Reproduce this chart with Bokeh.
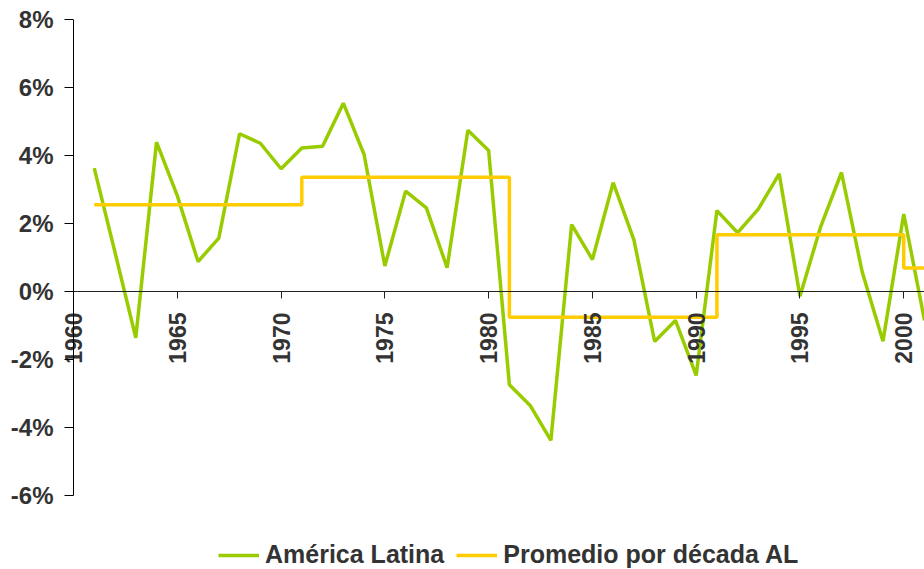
from bokeh.plotting import figure
from bokeh.models import Range1d, FixedTicker, Legend, LegendItem, LinearAxis
from bokeh.embed import file_html
from bokeh.resources import INLINE

years = list(range(1961, 2002))
america_latina = [3.63, 1.15, -1.36, 4.39, 2.82, 0.88, 1.57, 4.64, 4.36, 3.61,
                  4.22, 4.27, 5.54, 4.03, 0.75, 2.95, 2.46, 0.70, 4.74, 4.15,
                  -2.74, -3.35, -4.38, 1.97, 0.94, 3.20, 1.52, -1.47, -0.85, -2.47,
                  2.38, 1.73, 2.43, 3.46, -0.14, 1.91, 3.50, 0.57, -1.46, 2.28,
                  -0.85]
decade_avg = [2.55] * 10 + [3.36] * 10 + [-0.76] * 10 + [1.67] * 9 + [0.69] * 2

y_ticks = [-6, -4, -2, 0, 2, 4, 6, 8]
y_labels = {t: f"{t}%" for t in y_ticks}
x_ticks = [1960, 1965, 1970, 1975, 1980, 1985, 1990, 1995, 2000]

GREEN = "#99CC00"
YELLOW = "#FFCC00"
TXT = "#333333"
FONT = "Liberation Sans"

LEFT = 64                # frame starts a little left of the y axis line
PPY = 851 / 41.0         # pixels per year
x0 = 1960 - (73 - LEFT) / PPY

p = figure(width=924, height=569, output_backend="svg", toolbar_location=None,
           x_range=Range1d(x0, 2001), y_range=Range1d(8 - 550 / 34.0, 8),
           x_axis_location=None, y_axis_location=None,
           min_border_left=LEFT, min_border_right=0, min_border_top=19,
           min_border_bottom=0)
p.outline_line_color = None
p.xgrid.visible = False
p.ygrid.visible = False
p.background_fill_color = "white"

r1 = p.line(years, america_latina, line_color=GREEN, line_width=3.5)
r2 = p.step(years, decade_avg, line_color=YELLOW, line_width=3.5, mode="after")

# y axis labels and tick marks (panel axis, no line)
yax = LinearAxis(bounds=(-6, 8))
yax.ticker = FixedTicker(ticks=y_ticks)
yax.major_label_overrides = y_labels
yax.minor_tick_line_color = None
yax.major_tick_in = 73 - LEFT
yax.major_tick_out = 0
yax.major_label_standoff = 11
yax.axis_line_color = None
yax.major_tick_line_color = "black"
yax.major_label_text_font = FONT
yax.major_label_text_font_style = "bold"
yax.major_label_text_font_size = "24px"
yax.major_label_text_color = TXT
p.add_layout(yax, "left")

# y axis line at 1960
yline = LinearAxis(fixed_location=1960, bounds=(-6, 8))
yline.ticker = FixedTicker(ticks=[])
yline.minor_tick_line_color = None
yline.major_tick_line_color = None
yline.axis_line_color = "black"
p.add_layout(yline, "left")

# x axis crossing at zero
xax = LinearAxis(fixed_location=0, bounds=(1960, 2001))
xax.ticker = FixedTicker(ticks=x_ticks)
xax.minor_tick_line_color = None
xax.major_tick_in = 0
xax.major_tick_out = 7
xax.major_label_orientation = 3.141592653589793 / 2
xax.major_label_standoff = 14
xax.axis_line_color = "#222222"
xax.major_tick_line_color = "#222222"
xax.major_label_text_font = FONT
xax.major_label_text_font_style = "bold"
xax.major_label_text_font_size = "23px"
xax.major_label_text_color = TXT
p.add_layout(xax, "below")

legend = Legend(items=[LegendItem(label="América Latina", renderers=[r1]),
                       LegendItem(label="Promedio por década AL", renderers=[r2])],
                orientation="horizontal", location=(218 - LEFT, 0),
                border_line_color=None, background_fill_alpha=0,
                padding=0, margin=0, spacing=12, label_standoff=6,
                glyph_width=41, glyph_height=20,
                label_text_font=FONT, label_text_font_style="bold",
                label_text_font_size="25px", label_text_color=TXT)
p.add_layout(legend, "center")

open("out.html", "w").write(file_html(p, INLINE))
